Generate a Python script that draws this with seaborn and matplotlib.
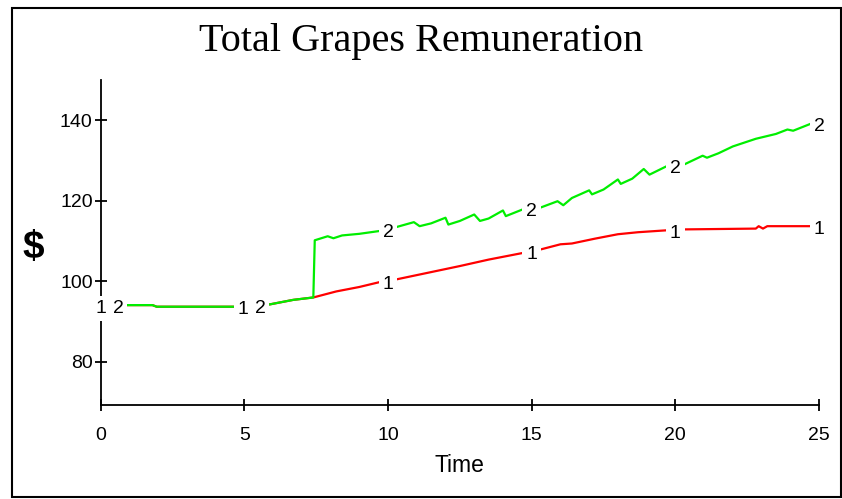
import matplotlib
matplotlib.use("Agg")
import matplotlib.pyplot as plt
import seaborn as sns
import numpy as np
import pandas as pd
from matplotlib.patches import Rectangle

# series 1 (red)
t1 = [0, 1.8, 1.95, 4.8, 5.5, 5.9, 6.7, 7.4, 8.2, 9.0, 9.7, 10.3, 11.5, 12.5,
      13.5, 14.8, 15.3, 16.0, 16.4, 17.2, 18.0, 18.7, 19.75, 20.3, 22.8, 22.9,
      23.05, 23.2, 25]
v1 = [94.1, 94.1, 93.7, 93.7, 94.0, 94.3, 95.4, 96.0, 97.5, 98.6, 99.8, 100.5,
      102.3, 103.8, 105.4, 107.2, 107.9, 109.2, 109.4, 110.6, 111.7, 112.2,
      112.7, 112.9, 113.1, 113.7, 113.1, 113.7, 113.7]

# series 2 (green)
t2 = [0, 1.8, 1.95, 4.8, 5.5, 5.9, 6.7, 7.4, 7.45, 7.9, 8.1, 8.4, 9.0, 9.7,
      10.3, 10.9, 11.1, 11.5, 12.0, 12.1, 12.5, 13.0, 13.2, 13.5, 14.0, 14.1,
      14.7, 15.3, 15.9, 16.1, 16.4, 17.0, 17.1, 17.5, 18.0, 18.1, 18.5, 18.9,
      19.1, 19.7, 20.3, 20.95, 21.1, 21.5, 22.0, 22.8, 23.5, 23.9, 24.1, 24.7, 25]
v2 = [94.1, 94.1, 93.7, 93.7, 94.0, 94.3, 95.4, 96.0, 110.2, 111.2, 110.7,
      111.4, 111.8, 112.5, 113.5, 114.7, 113.7, 114.4, 115.8, 114.1, 115.0,
      116.6, 115.0, 115.6, 117.6, 116.2, 117.9, 118.3, 119.9, 118.9, 120.7,
      122.6, 121.6, 122.8, 125.3, 124.2, 125.5, 127.9, 126.5, 128.6, 129.0,
      131.2, 130.7, 131.8, 133.5, 135.4, 136.6, 137.7, 137.4, 139.1, 139.3]

# where the "1" and "2" tags sit along the lines
lab1_t = [0, 4.95, 10, 15, 20, 25]
lab2_t = [0.6, 5.55, 10, 15, 20, 25]

x_ticks = [0, 5, 10, 15, 20, 25]
y_ticks = [80, 100, 120, 140]

sns.set_style("white")
plt.rcParams['font.family'] = ['Liberation Sans', 'DejaVu Sans']
plt.rcParams['text.color'] = 'black'
plt.rcParams['axes.labelcolor'] = 'black'

fig = plt.figure(figsize=(8.42, 4.99), dpi=100)
ax = fig.add_axes([0.1196, 0.1884, 0.8531, 0.6513])

df1 = pd.DataFrame({"t": t1, "v": v1})
df2 = pd.DataFrame({"t": t2, "v": v2})
sns.lineplot(data=df1, x="t", y="v", ax=ax, color="#ff0000", lw=1.6, zorder=2)
sns.lineplot(data=df2, x="t", y="v", ax=ax, color="#00ee00", lw=1.6, zorder=3)


def tag(ts, tx, vx, label):
    for t in ts:
        yv = np.interp(t, tx, vx)
        ax.annotate(label, (t, yv), xytext=(0, -2.5), textcoords="offset points",
                    ha="center", va="center", fontsize=14, color="black",
                    zorder=5, annotation_clip=False,
                    bbox=dict(boxstyle="square,pad=0.2", fc="white", ec="none"))


tag(lab1_t, t1, v1, "1")
tag(lab2_t, t2, v2, "2")

ax.set_xlim(0, 25)
ax.set_ylim(69.3, 150)
ax.set_xticks(x_ticks)
ax.set_yticks(y_ticks)
for s in ["top", "right"]:
    ax.spines[s].set_visible(False)
for s in ["left", "bottom"]:
    ax.spines[s].set_color("black")
    ax.spines[s].set_linewidth(1.3)
ax.tick_params(axis="x", direction="inout", length=8.6, width=1.3, pad=11.5,
               labelsize=14, colors="black", bottom=True)
ax.tick_params(axis="y", direction="inout", length=8, width=1.3, pad=1.8,
               labelsize=14, colors="black", left=True)
ax.set_xlabel("Time", fontsize=16.5, labelpad=7, color="black")
ax.set_ylabel("")

fig.text(33 / 842, 1 - 248 / 499, "$", fontsize=28, fontweight="bold",
         ha="center", va="center", color="black")
fig.text(421 / 842, 1 - 42 / 499, "Total Grapes Remuneration",
         fontsize=29, family="Liberation Serif", ha="center", va="center",
         color="black")

# outer frame
fig.patches.append(Rectangle((12 / 842, 2 / 499), 829 / 842, 489 / 499,
                             transform=fig.transFigure, fill=False,
                             ec="black", lw=1.5))

fig.savefig("out.png", dpi=100)
